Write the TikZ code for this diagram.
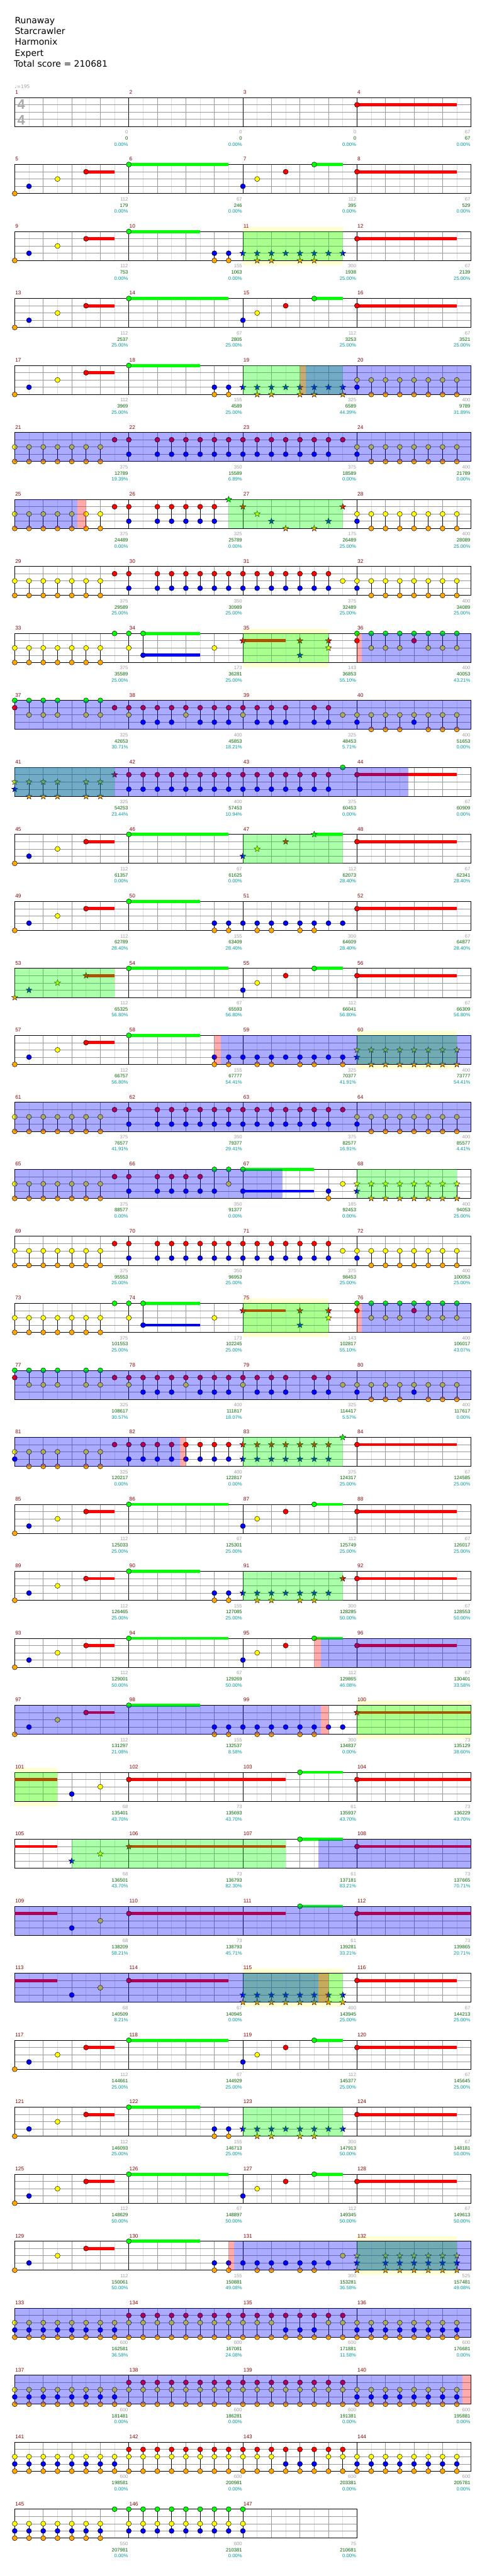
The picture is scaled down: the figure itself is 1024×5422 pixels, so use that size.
\documentclass[tikz,border=0pt]{standalone}
\usepackage{fontspec}
\setmainfont{Liberation Sans}
\newfontfamily\dvs{DejaVu Sans}
\definecolor{c0}{RGB}{0,255,0}
\definecolor{c1}{RGB}{255,0,0}
\definecolor{c2}{RGB}{255,255,0}
\definecolor{c3}{RGB}{0,0,255}
\definecolor{c4}{RGB}{255,165,0}
\definecolor{hly}{RGB}{255,255,210}
\definecolor{gridA}{RGB}{153,153,153}
\definecolor{gridB}{RGB}{221,221,221}
\definecolor{mnumc}{RGB}{139,0,0}
\definecolor{sgrayc}{RGB}{160,160,160}
\definecolor{sgreenc}{RGB}{0,100,0}
\definecolor{stealc}{RGB}{0,153,153}
\definecolor{tsc}{RGB}{170,170,170}
\tikzset{
 mnum/.style={anchor=base west,inner sep=0,text=mnumc,font=\fontsize{11}{11}\selectfont},
 scg/.style={anchor=base east,inner sep=0,text=sgrayc,font=\fontsize{10.2}{10}\selectfont},
 scn/.style={anchor=base east,inner sep=0,text=sgreenc,font=\fontsize{10.2}{10}\selectfont},
 scp/.style={anchor=base east,inner sep=0,text=stealc,font=\fontsize{10.2}{10}\selectfont},
 hdr/.style={anchor=base west,inner sep=0,font=\dvs\fontsize{18.5}{20}\selectfont},
 tsig/.style={anchor=base,inner sep=0,text=tsc,font=\bfseries\fontsize{29}{29}\selectfont},
}
\newcommand\RS[1]{\pgfmathsetmacro\Ty{205.3+141*#1}\def\Rw{#1}}
\newcommand\STF[1]{%
 \pgfmathtruncatemacro\nm{#1-1}%
 \foreach \q in {1,3,...,\nm}{\draw[gridB,line width=0.8] ({31+30*\q},\Ty) -- ++(0,61);}%
 \pgfmathtruncatemacro\nn{#1-2}%
 \foreach \q in {2,4,...,\nn}{\draw[gridA,line width=0.8] ({31+30*\q},\Ty) -- ++(0,61);}%
 \foreach \lan in {1,2,3}{\draw[gridA,line width=0.8] (31,{\Ty+15.25*\lan}) -- ++({30*#1},0);}%
 \foreach \q in {8,16,...,\nn}{\draw[black,line width=0.9] ({31+30*\q},\Ty) -- ++(0,61);}%
 \draw[black,line width=1.1] (31,\Ty) rectangle ({31+30*#1},{\Ty+61});}
\newcommand\NT[2]{%
 \pgfmathsetmacro\nx{31+30*(#1)}%
 \pgfmathsetmacro\ya{\Ty+15.25*min(#2,#2)}%
 \pgfmathsetmacro\yb{\Ty+15.25*max(#2,#2)}%
 \draw[black,line width=0.9] (\nx,\ya) -- (\nx,\yb);%
 \foreach \lan in {#2}{\filldraw[fill=c\lan,draw=black,line width=0.6] (\nx,{\Ty+15.25*\lan}) circle[radius=5.3];}}
\newcommand\ST[2]{%
 \pgfmathsetmacro\nx{31+30*(#1)}%
 \pgfmathsetmacro\ya{\Ty+15.25*min(#2,#2)}%
 \pgfmathsetmacro\yb{\Ty+15.25*max(#2,#2)}%
 \draw[black,line width=0.9] (\nx,\ya) -- (\nx,\yb);%
 \foreach \lan in {#2}{\filldraw[fill=c\lan,draw=black,line width=0.5] (\nx,{\Ty+15.25*\lan}) +(-90:6.8) -- +(-54:2.8) -- +(-18:6.8) -- +(18:2.8) -- +(54:6.8) -- +(90:2.8) -- +(126:6.8) -- +(162:2.8) -- +(198:6.8) -- +(234:2.8) -- cycle;}}
\newcommand\SU[3]{\draw[c#3,line width=6.3] ({31+30*(#1)},{\Ty+15.25*#3}) -- ({31+30*(#2)},{\Ty+15.25*#3});}
\newcommand\OV[3]{\fill[#1,opacity=0.33] ({31+30*(#2)},\Ty) rectangle ({31+30*(#3)},{\Ty+61});}
\newcommand\YH[2]{\fill[hly] ({31+30*(#1)},{\Ty-10}) rectangle ({31+30*(#2)},{\Ty+71});}
\newcommand\MN[1]{\foreach \k in {1,...,#1}{\pgfmathtruncatemacro\mn{4*\Rw+\k}\node[mnum] (mn\mn) at ({31+240*(\k-1)+1},{\Ty-7.5}) {\mn};}}
\newcommand\SCS[1]{\foreach \ga/\gb/\gc [count=\k] in {#1}{%
 \pgfmathsetmacro\xe{31+240*\k-1.5}%
 \node[scg] (sa\Rw-\k) at (\xe,{\Ty+76.4}) {\ga};%
 \node[scn] (sb\Rw-\k) at (\xe,{\Ty+89.3}) {\gb};%
 \node[scp] (sc\Rw-\k) at (\xe,{\Ty+102}) {\gc\%};}}
% patterns
\newcommand\patA{\SU{5}{7}{1}\SU{8}{15}{0}\SU{21}{23}{0}\SU{24}{31}{1}%
 \NT{0}{4}\NT{1}{3}\NT{3}{2}\NT{5}{1}\NT{8}{0}\NT{16}{3}\NT{17}{2}\NT{19}{1}\NT{21}{0}\NT{24}{1}}
\newcommand\patBa{\SU{5}{7}{1}\SU{8}{13}{0}%
 \NT{0}{4}\NT{1}{3}\NT{3}{2}\NT{5}{1}\NT{8}{0}\NT{14}{3,4}\NT{15}{3,4}}
\newcommand\patBbN{\NT{16}{3}\NT{17}{3,4}\NT{18}{3,4}\NT{19}{3}\NT{20}{3,4}\NT{21}{3,4}\NT{22}{3}\NT{23}{3}}
\newcommand\patBbS{\ST{16}{3}\ST{17}{3,4}\ST{18}{3,4}\ST{19}{3}\ST{20}{3,4}\ST{21}{3,4}\ST{22}{3}\ST{23}{3}}
\newcommand\patCa{\foreach \p in {0,...,6}{\NT{\p}{2,4}}\NT{7}{1}\NT{8}{1,3}}
\newcommand\patC{\patCa\foreach \p in {10,...,22}{\NT{\p}{1,3}}\NT{23}{1}\NT{24}{2,3}\foreach \p in {25,...,31}{\NT{\p}{2,4}}}
\newcommand\patD{\patCa\foreach \p in {10,...,22}{\NT{\p}{1,3}}\NT{23}{2}\NT{24}{2,3}\foreach \p in {25,...,31}{\NT{\p}{2,4}}}
\newcommand\patE{\foreach \p in {0,...,6}{\NT{\p}{2,4}}%
 \SU{9}{13}{0}\SU{9}{13}{3}\SU{16}{19}{1}%
 \NT{7}{0}\NT{8}{0,2}\NT{9}{0,3}\NT{14}{2}%
 \ST{16}{1}\ST{20}{1,3}\ST{22}{1,2}%
 \NT{24}{0,1}\NT{25}{0,2}\NT{26}{0,2}\NT{27}{0,2}\NT{28}{0,1}\NT{29}{0,2}\NT{30}{0,2}\NT{31}{0,2}}
\newcommand\patF{\NT{0}{0,1}\NT{1}{0,2}\NT{2}{0,2}\NT{3}{0,2}\NT{5}{0,2}\NT{6}{0,2}\NT{7}{1}\NT{8}{1,2}%
 \NT{9}{1,3}\NT{10}{1,3}\NT{11}{1,3}\NT{12}{1,2}\NT{13}{1,3}\NT{14}{1,3}\NT{15}{1,3}\NT{16}{1,2}%
 \NT{17}{1,3}\NT{18}{1,3}\NT{19}{1,3}\NT{21}{1,3}\NT{22}{1,3}\NT{23}{2}\NT{24}{2,3}%
 \NT{25}{2,4}\NT{26}{2,4}\NT{27}{2,4}\NT{28}{2,3}\NT{29}{2,4}\NT{30}{2,4}\NT{31}{2,4}}
\newcommand\patG{\SU{0}{3}{1}\NT{4}{3}\NT{6}{2}\SU{8}{19}{1}\NT{8}{1}\SU{20}{23}{0}\NT{20}{0}\SU{24}{32}{1}\NT{24}{1}}
\newcommand\patH{\foreach \p in {0,...,7}{\NT{\p}{2,3,4}}\foreach \p in {8,...,18}{\NT{\p}{1,2,4}}\foreach \p in {19,20,21}{\NT{\p}{1,3,4}}\NT{22}{1,2,4}\NT{23}{1,2,4}\foreach \p in {24,...,31}{\NT{\p}{2,3,4}}}
\begin{document}
\begin{tikzpicture}[x=1pt,y=-1pt]
\useasboundingbox (0,0) rectangle (1024,5422);
\fill[white] (0,0) rectangle (1024,5422);
\node[hdr] (t1) at (31,49.3) {Runaway};
\node[hdr] (t2) at (31,72.3) {Starcrawler};
\node[hdr] (t3) at (31,95.3) {Harmonix};
\node[hdr] (t4) at (31,118.3) {Expert};
\node[hdr] (t5) at (29.5,141.3) {Total score = 210681};
\node[anchor=base west,inner sep=0,text=sgrayc,font=\dvs\fontsize{10}{10}\selectfont] (tempo) at (30.5,186) {♩=195};
% row 0
\RS{0}\STF{32}
\node[tsig] (ts1) at (44.5,230) {4};
\node[tsig] (ts2) at (44.5,263) {4};
\SU{24}{31}{1}\NT{24}{1}
\MN{4}\SCS{0/0/0.00,0/0/0.00,0/0/0.00,67/67/0.00}
% row 1
\RS{1}\STF{32}\patA\MN{4}\SCS{112/179/0.00,67/246/0.00,112/395/0.00,67/529/0.00}
% row 2
\RS{2}\YH{16}{23}\STF{32}\patBa\patBbS\SU{24}{31}{1}\NT{24}{1}\OV{c0}{16}{23}
\MN{4}\SCS{112/753/0.00,155/1063/0.00,300/1938/25.00,67/2139/25.00}
% row 3
\RS{3}\STF{32}\patA\MN{4}\SCS{112/2537/25.00,67/2805/25.00,112/3253/25.00,67/3521/25.00}
% row 4
\RS{4}\STF{32}\patBa\ST{16}{3}\ST{17}{3,4}\ST{18}{3,4}\ST{19}{3}\ST{20}{3,4}\ST{21}{3,4}\ST{22}{3}\ST{23}{3,4}\NT{24}{2,3}\foreach \p in {25,...,31}{\NT{\p}{2,4}}
\OV{c0}{16}{23}\OV{c1}{20}{20.4}\OV{c3}{20.4}{32}
\MN{4}\SCS{112/3969/25.00,155/4589/25.00,325/6589/44.39,400/9789/31.89}
% row 5
\RS{5}\STF{32}\patC\OV{c3}{0}{32}
\MN{4}\SCS{375/12789/19.39,350/15589/6.89,375/18589/0.00,400/21789/0.00}
% row 6
\RS{6}\STF{32}\patCa\foreach \p in {10,...,14}{\NT{\p}{1,3}}\ST{15}{0}\ST{16}{1}\ST{17}{2}\ST{18}{3}\ST{19}{4}\ST{21}{4}\ST{22}{3}\ST{23}{1}\NT{24}{2,3}\foreach \p in {25,...,31}{\NT{\p}{2,4}}
\OV{c0}{15}{23}\OV{c1}{4.4}{5}\OV{c3}{0}{4.4}
\MN{4}\SCS{375/24489/0.00,325/25789/0.00,175/26489/25.00,400/28089/25.00}
% row 7
\RS{7}\STF{32}\patD\MN{4}\SCS{375/29589/25.00,350/30989/25.00,375/32489/25.00,400/34089/25.00}
% row 8
\RS{8}\YH{16}{22}\STF{32}\patE\OV{c0}{16}{22}\OV{c1}{24}{24.35}\OV{c3}{24.35}{32}
\MN{4}\SCS{375/35589/25.00,173/36281/25.00,143/36853/55.10,400/40053/43.21}
% row 9
\RS{9}\STF{32}\patF\OV{c3}{0}{32}
\MN{4}\SCS{325/42653/30.71,400/45853/18.21,325/48453/5.71,400/51653/0.00}
% row 10
\RS{10}\STF{32}\ST{0}{2,3}\foreach \p in {1,2,3,5,6}{\ST{\p}{2,4}}\ST{7}{1}\foreach \p in {8,...,22}{\NT{\p}{1,3}}\NT{23}{0}\SU{24}{31}{1}\NT{24}{1}
\OV{c0}{0}{7}\OV{c3}{0}{27.6}
\MN{4}\SCS{325/54253/23.44,400/57453/10.94,375/60453/0.00,67/60909/0.00}
% row 11
\RS{11}\STF{32}\SU{5}{7}{1}\SU{8}{15}{0}\SU{21}{23}{0}\SU{24}{31}{1}\NT{0}{4}\NT{1}{3}\NT{3}{2}\NT{5}{1}\NT{8}{0}\ST{16}{3}\ST{17}{2}\ST{19}{1}\ST{21}{0}\NT{24}{1}
\OV{c0}{16}{23}
\MN{4}\SCS{112/61357/0.00,67/61625/0.00,112/62073/28.40,67/62341/28.40}
% row 12
\RS{12}\STF{32}\patBa\patBbN\SU{24}{31}{1}\NT{24}{1}
\MN{4}\SCS{112/62789/28.40,155/63409/28.40,300/64609/28.40,67/64877/28.40}
% row 13
\RS{13}\STF{32}\SU{5}{7}{1}\SU{8}{15}{0}\SU{21}{23}{0}\SU{24}{31}{1}\ST{0}{4}\ST{1}{3}\ST{3}{2}\ST{5}{1}\NT{8}{0}\NT{16}{3}\NT{17}{2}\NT{19}{1}\NT{21}{0}\NT{24}{1}
\OV{c0}{0}{7}
\MN{4}\SCS{112/65325/56.80,67/65593/56.80,112/66041/56.80,67/66309/56.80}
% row 14
\RS{14}\YH{24}{31}\STF{32}\patBa\NT{16}{3}\NT{17}{3,4}\NT{18}{3,4}\NT{19}{3}\NT{20}{3,4}\NT{21}{3,4}\NT{22}{3}\NT{23}{3,4}\ST{24}{2,3}\foreach \p in {25,...,31}{\ST{\p}{2,4}}
\OV{c0}{24}{31}\OV{c1}{14}{14.45}\OV{c3}{14.45}{32}
\MN{4}\SCS{112/66757/56.80,155/67777/54.41,325/70377/41.91,400/73777/54.41}
% row 15
\RS{15}\STF{32}\patC\OV{c3}{0}{32}
\MN{4}\SCS{375/76577/41.91,350/79377/29.41,375/82577/16.91,400/85577/4.41}
% row 16
\RS{16}\STF{32}\patCa\foreach \p in {10,...,13}{\NT{\p}{1,3}}\NT{14}{0,3}\NT{15}{0,2}\SU{16}{21}{0}\SU{16}{21}{3}\NT{16}{0,3}\NT{22}{3,4}\NT{23}{2}\ST{24}{2,3}\foreach \p in {25,...,31}{\ST{\p}{2,4}}
\OV{c0}{24}{31}\OV{c3}{0}{18.8}
\MN{4}\SCS{375/88577/0.00,350/91377/0.00,185/92453/0.00,400/94053/25.00}
% row 17
\RS{17}\STF{32}\patD\MN{4}\SCS{375/95553/25.00,350/96953/25.00,375/98453/25.00,400/100053/25.00}
% row 18
\RS{18}\YH{16}{22}\STF{32}\patE\OV{c0}{16}{22}\OV{c1}{24}{24.35}\OV{c3}{24.35}{32}
\MN{4}\SCS{375/101553/25.00,173/102245/25.00,143/102817/55.10,400/106017/43.07}
% row 19
\RS{19}\STF{32}\patF\OV{c3}{0}{32}
\MN{4}\SCS{325/108617/30.57,400/111817/18.07,325/114417/5.57,400/117617/0.00}
% row 20
\RS{20}\STF{32}\NT{0}{2,3}\foreach \p in {1,2,3,5,6}{\NT{\p}{2,4}}\NT{7}{1}\foreach \p in {8,...,15}{\NT{\p}{1,3}}\foreach \p in {16,...,22}{\ST{\p}{1,3}}\ST{23}{0}\SU{24}{31}{1}\NT{24}{1}
\OV{c0}{16}{23}\OV{c1}{11.6}{12}\OV{c3}{0}{11.6}
\MN{4}\SCS{325/120217/0.00,400/122817/0.00,375/124317/25.00,67/124585/25.00}
% row 21
\RS{21}\STF{32}\patA\MN{4}\SCS{112/125033/25.00,67/125301/25.00,112/125749/25.00,67/126017/25.00}
% row 22
\RS{22}\STF{32}\patBa\ST{16}{3}\ST{17}{3,4}\ST{18}{3,4}\ST{19}{3}\ST{20}{3,4}\ST{21}{3,4}\ST{22}{3}\ST{23}{1}\SU{24}{31}{1}\NT{24}{1}
\OV{c0}{16}{23}
\MN{4}\SCS{112/126465/25.00,155/127085/25.00,300/128285/50.00,67/128553/50.00}
% row 23
\RS{23}\STF{32}\patA\OV{c1}{21}{21.45}\OV{c3}{21.45}{32}
\MN{4}\SCS{112/129001/50.00,67/129269/50.00,112/129865/46.08,67/130401/33.58}
% row 24
\RS{24}\YH{24}{32}\STF{32}\patBa\patBbN\SU{24}{32}{1}\ST{24}{1}
\OV{c0}{24}{32}\OV{c1}{21.45}{22}\OV{c3}{0}{21.45}
\MN{4}\SCS{112/131297/21.08,155/132537/8.58,300/134837/0.00,73/135129/38.60}
% row 25
\RS{25}\YH{0}{3}\STF{32}\patG\OV{c0}{0}{3}
\MN{4}\SCS{68/135401/43.70,73/135693/43.70,61/135937/43.70,73/136229/43.70}
% row 26
\RS{26}\STF{32}\SU{0}{3}{1}\ST{4}{3}\ST{6}{2}\SU{8}{19}{1}\ST{8}{1}\SU{20}{23}{0}\NT{20}{0}\SU{24}{32}{1}\NT{24}{1}
\OV{c0}{4}{19}\OV{c3}{21.3}{32}
\MN{4}\SCS{68/136501/43.70,73/136793/82.30,61/137181/83.21,73/137665/70.71}
% row 27
\RS{27}\STF{32}\patG\OV{c3}{0}{32}
\MN{4}\SCS{68/138209/58.21,73/138793/45.71,61/139281/33.21,73/139865/20.71}
% row 28
\RS{28}\YH{16}{23}\STF{32}\SU{0}{3}{1}\NT{4}{3}\NT{6}{2}\SU{8}{15}{1}\NT{8}{1}\foreach \p in {16,...,23}{\ST{\p}{3,4}}\SU{24}{31}{1}\NT{24}{1}
\OV{c0}{16}{23}\OV{c1}{21.3}{22}\OV{c3}{0}{21.3}
\MN{4}\SCS{68/140509/8.21,67/140945/0.00,400/143945/25.00,67/144213/25.00}
% row 29
\RS{29}\STF{32}\patA\MN{4}\SCS{112/144661/25.00,67/144929/25.00,112/145377/25.00,67/145645/25.00}
% row 30
\RS{30}\STF{32}\patBa\patBbS\SU{24}{31}{1}\NT{24}{1}\OV{c0}{16}{23}
\MN{4}\SCS{112/146093/25.00,155/146713/25.00,300/147913/50.00,67/148181/50.00}
% row 31
\RS{31}\STF{32}\patA\MN{4}\SCS{112/148629/50.00,67/148897/50.00,112/149345/50.00,67/149613/50.00}
% row 32
\RS{32}\YH{24}{31}\STF{32}\patBa\NT{16}{3}\NT{17}{3,4}\NT{18}{3,4}\NT{19}{3}\NT{20}{3,4}\NT{21}{3,4}\NT{22}{3}\NT{23}{2}\ST{24}{2,3,4}\foreach \p in {26,...,31}{\ST{\p}{2,3,4}}
\OV{c0}{24}{31}\OV{c1}{15}{15.4}\OV{c3}{15.4}{32}
\MN{4}\SCS{112/150061/50.00,155/150881/49.08,300/153281/36.58,525/157481/49.08}
% row 33
\RS{33}\STF{32}\patH\OV{c3}{0}{32}
\MN{4}\SCS{600/162581/36.58,600/167081/24.08,600/171881/11.58,600/176681/0.00}
% row 34
\RS{34}\STF{32}\foreach \p in {0,...,7}{\NT{\p}{2,3,4}}\foreach \p in {8,...,23}{\NT{\p}{1,2,4}}\foreach \p in {24,...,31}{\NT{\p}{2,3,4}}
\OV{c1}{31.4}{32}\OV{c3}{0}{31.4}
\MN{4}\SCS{600/181481/0.00,600/186281/0.00,600/191381/0.00,600/195881/0.00}
% row 35
\RS{35}\STF{32}\patH
\MN{4}\SCS{600/198581/0.00,600/200981/0.00,600/203381/0.00,600/205781/0.00}
% row 36
\RS{36}\STF{24}\foreach \p in {0,...,6}{\NT{\p}{2,3,4}}\NT{7}{0}\foreach \p in {8,...,16}{\NT{\p}{0,2,3}}
\MN{3}\SCS{550/207981/0.00,600/210381/0.00,75/210681/0.00}
\end{tikzpicture}
\end{document}
